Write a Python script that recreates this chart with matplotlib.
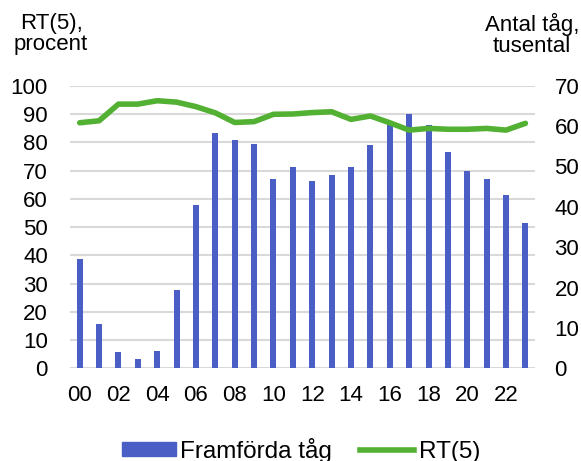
import matplotlib
matplotlib.use("Agg")
import matplotlib.pyplot as plt
from matplotlib.patches import Patch
from matplotlib.lines import Line2D
import numpy as np

plt.rcParams['font.family'] = ['Liberation Sans', 'DejaVu Sans']

hours = [f"{h:02d}" for h in range(24)]
# Framförda tåg (tusental)
trains = [27.1, 11.1, 4.0, 2.3, 4.3, 19.3, 40.4, 58.2, 56.6, 55.6, 46.8, 49.8,
          46.5, 47.9, 49.8, 55.2, 60.6, 63.1, 60.3, 53.7, 49.0, 46.9, 43.0, 36.1]
# RT(5), procent
rt5 = [86.9, 87.6, 93.5, 93.5, 94.7, 94.2, 92.6, 90.4, 87.0, 87.3, 89.9, 90.0,
       90.5, 90.8, 88.1, 89.3, 86.9, 84.3, 84.9, 84.6, 84.6, 84.9, 84.3, 86.7]

bar_color = "#4a5ec6"
line_color = "#52b032"
grid_color = "#d9d9d9"
fs = 16
fs_leg = 17.5

fig = plt.figure(figsize=(5.81, 4.61), dpi=100)
ax = fig.add_axes([0.1205, 0.201, 0.8005, 0.613])
x = np.arange(len(hours))

ax.bar(x, trains, width=0.31, color=bar_color, zorder=2)
ax.set_ylim(0, 70)
ax.set_xlim(-0.5, 23.5)
ax.set_xticks(x[::2])
ax.set_xticklabels(hours[::2])
for y in np.arange(7, 71, 7):
    ax.axhline(y, color=grid_color, lw=1.5, zorder=0)
ax.axhline(0, color=grid_color, lw=1.5, zorder=1)

ax2 = ax.twinx()
ax2.plot(x, rt5, color=line_color, lw=4, solid_capstyle='round', zorder=3)
ax2.set_ylim(0, 100)
ax2.set_yticks(np.arange(0, 101, 10))
ax2.yaxis.tick_left()

ax.yaxis.tick_right()
ax.set_yticks(np.arange(0, 71, 10))

for a in (ax, ax2):
    for s in a.spines.values():
        s.set_visible(False)
    a.tick_params(length=0, labelsize=fs, colors="black")
ax.tick_params(axis='x', pad=12)
ax.tick_params(axis='y', pad=14)
ax2.tick_params(axis='y', pad=16)

fig.text(51 / 581, 1 - 13 / 461, "RT(5),\nprocent", ha='center', va='top',
         fontsize=fs, linespacing=1.0, multialignment='center')
fig.text(532 / 581, 1 - 13 / 461, "Antal tåg,\ntusental", ha='center', va='top',
         fontsize=fs, linespacing=1.0, multialignment='center')

handles = [Patch(color=bar_color, label="Framförda tåg"),
           Line2D([0], [0], color=line_color, lw=4, label="RT(5)")]
fig.legend(handles=handles, loc='center', bbox_to_anchor=(301 / 581, 11 / 461),
           ncol=2, frameon=False, fontsize=fs_leg, handlelength=2.2,
           handleheight=0.5, handletextpad=0.2, columnspacing=1.15)

fig.savefig("out.png", dpi=100)
